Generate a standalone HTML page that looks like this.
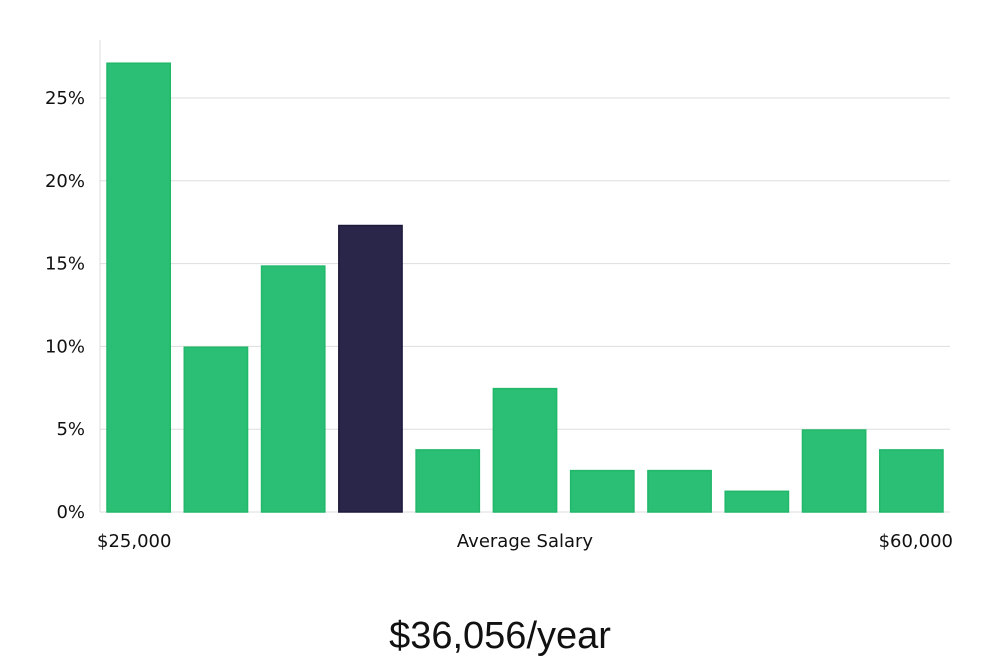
<!DOCTYPE html>
<html><head><meta charset="utf-8"><style>
body{margin:0;background:#fff;width:1000px;height:660px;overflow:hidden;font-family:"DejaVu Sans","Liberation Sans",sans-serif;}
</style></head><body>
<svg id="chart" width="1000" height="660" xmlns="http://www.w3.org/2000/svg"></svg>
<script>
const categories = ["b1","b2","b3","b4","b5","b6","b7","b8","b9","b10","b11"];
const values = [27.1, 9.95, 14.85, 17.3, 3.75, 7.45, 2.5, 2.5, 1.25, 4.95, 3.75];
const highlightIndex = 3;
const tickValues = [0,5,10,15,20,25];
const tickLabels = ["0%","5%","10%","15%","20%","25%"];
const xLabels = ["$25,000","Average Salary","$60,000"];
const salaryText = "$36,056/year";

const svg = document.getElementById('chart');
const NS = "http://www.w3.org/2000/svg";
const x0 = 100, x1 = 950, yBase = 512, pxPerUnit = (512-98)/25;
const y = v => yBase - v*pxPerUnit;
const step = (x1-x0)/categories.length;
function mk(tag, attrs){const e=document.createElementNS(NS,tag);for(const k in attrs)e.setAttribute(k,attrs[k]);svg.appendChild(e);return e;}

tickValues.forEach((t,i)=>{
  if(t>0){const g=mk('line',{x1:x0,x2:x1,y1:y(t),y2:y(t),stroke:'#dddddd','stroke-width':1});
  
  }
  const l=mk('text',{x:85,y:y(t)+6,'text-anchor':'end','font-size':18,fill:'#111'});
  l.textContent=tickLabels[i];
  
  
});
const ax=mk('line',{x1:x0,x2:x0,y1:40,y2:yBase,stroke:'#dddddd','stroke-width':1});


const bx=mk('line',{x1:x0,x2:x1,y1:yBase,y2:yBase,stroke:'#dddddd','stroke-width':1});



values.forEach((v,i)=>{
  const hi=i===highlightIndex;
  const r=mk('rect',{x:x0+i*step+7,y:y(v),width:step-14,height:yBase-y(v),fill:hi?'#29264a':'#2abf74',stroke:hi?'#1d1a3d':'#22b86a','stroke-width':1.5});
  
  
});

const xl=[{x:97,a:'start'},{x:525,a:'middle'},{x:953,a:'end'}];
xLabels.forEach((s,i)=>{
  const t=mk('text',{x:xl[i].x,y:547,'text-anchor':xl[i].a,'font-size':18,fill:'#111'});
  t.textContent=s;
  
  
});
const big=mk('text',{x:500,y:648,'text-anchor':'middle','font-size':38,fill:'#111','font-family':'"Liberation Sans",sans-serif','font-weight':'300'});
big.textContent=salaryText;


</script>
</body></html>
